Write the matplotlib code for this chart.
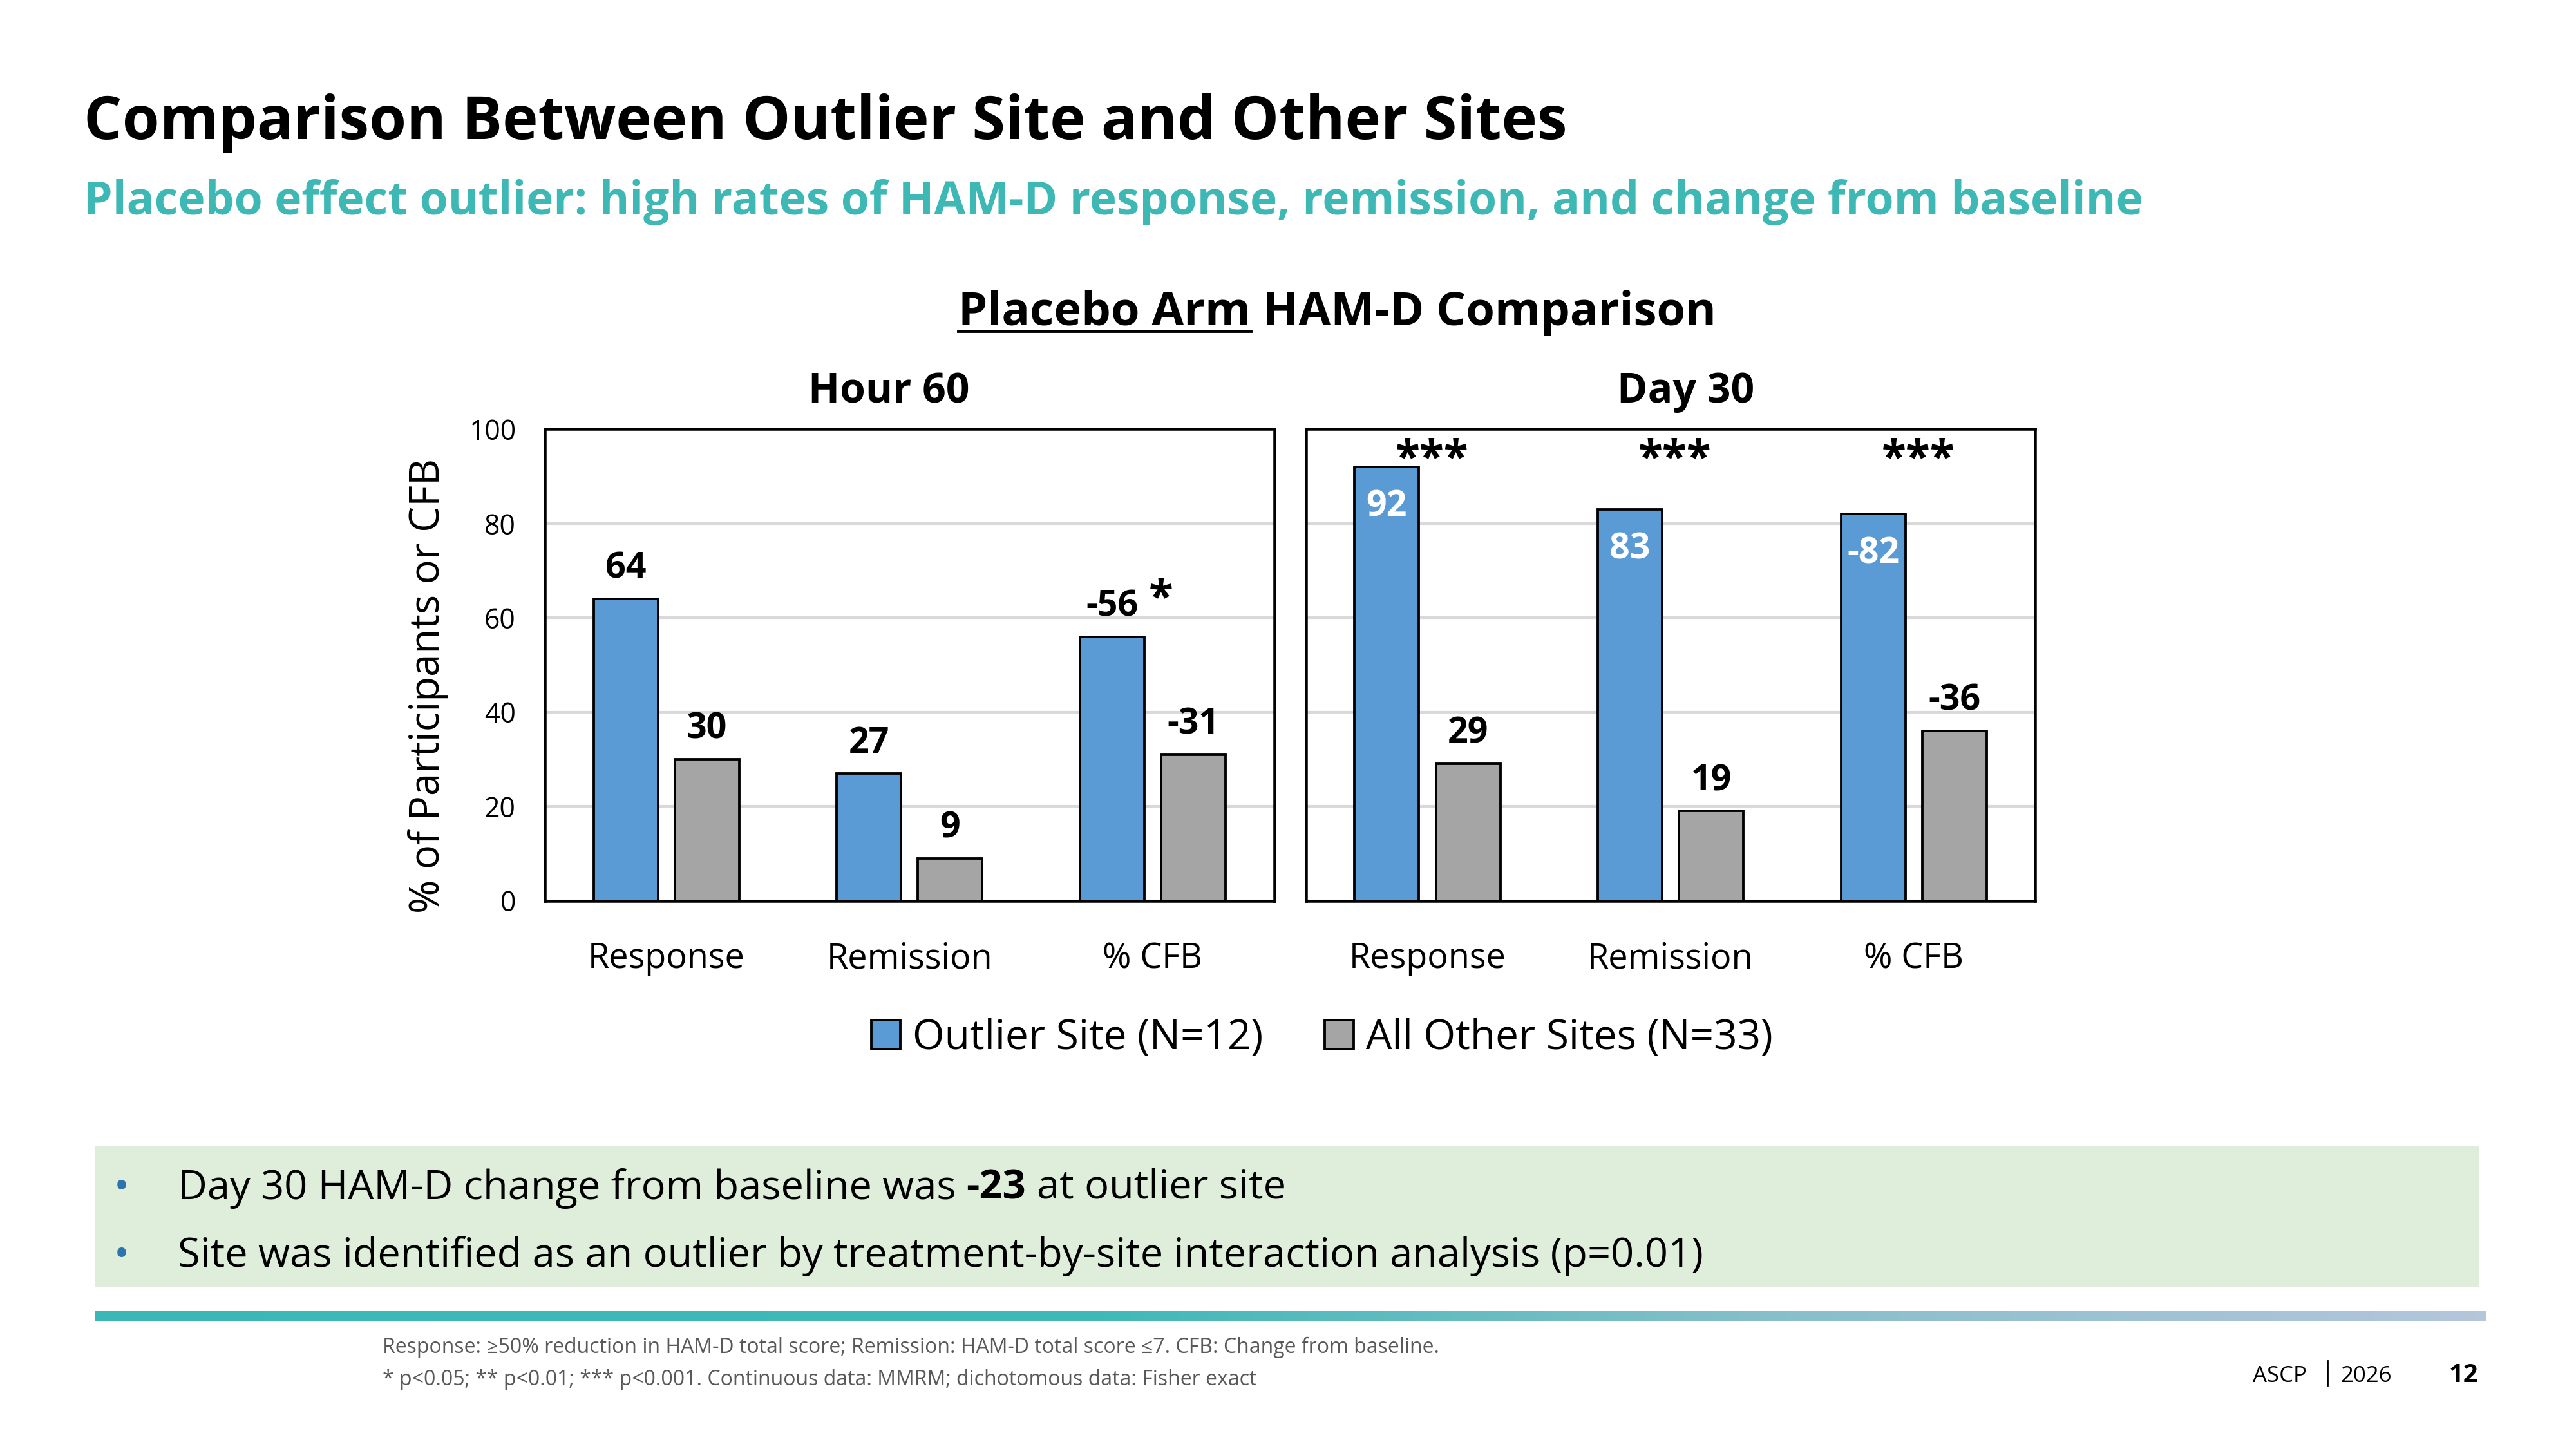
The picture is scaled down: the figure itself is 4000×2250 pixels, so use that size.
import numpy as np
import matplotlib
matplotlib.use('Agg')
import matplotlib.pyplot as plt
from matplotlib.patches import Rectangle, Patch
from matplotlib.lines import Line2D
from matplotlib.colors import LinearSegmentedColormap

plt.rcParams['font.family'] = ['Open Sans', 'DejaVu Sans']

# ── data ──────────────────────────────────────────────────────────────────────
categories = ['Response', 'Remission', '% CFB']
panel_titles = ['Hour 60', 'Day 30']
series_names = ['Outlier Site (N=12)', 'All Other Sites (N=33)']

hour60_outlier = [64, 27, 56]
hour60_other = [30, 9, 31]
day30_outlier = [92, 83, 82]
day30_other = [29, 19, 36]

hour60_outlier_labels = ['64', '27', '-56']
hour60_other_labels = ['30', '9', '-31']
day30_outlier_labels = ['92', '83', '-82']
day30_other_labels = ['29', '19', '-36']

hour60_sig = ['', '', '*']
day30_sig = ['***', '***', '***']

yticks = [0, 20, 40, 60, 80, 100]

BLUE = '#5B9BD5'
GRAY = '#A5A5A5'
TEAL = '#3DB8B5'

# ── figure / helpers ──────────────────────────────────────────────────────────
W, H = 4000, 2250
fig = plt.figure(figsize=(16, 9), dpi=250)
renderer = fig.canvas.get_renderer()


def fx(px):
    return px / W


def fy(px):
    return 1 - px / H


def width_px(s, size, weight='normal'):
    t = fig.text(0, 0, s, fontsize=size, fontweight=weight)
    w = t.get_window_extent(renderer).width
    t.remove()
    return w


def fitted_text(x, y, s, size, target_px, **kw):
    t = fig.text(x, y, s, fontsize=size, **kw)
    w = t.get_window_extent(renderer).width
    t.set_fontsize(size * target_px / w)
    return t


def chain_text(x_px, y, parts, size, **kw):
    # parts: list of (text, weight); joined with single spaces
    sp = width_px('a a', size) - width_px('aa', size)
    x = x_px
    out = []
    for s, weight in parts:
        t = fig.text(fx(x), y, s, fontsize=size, fontweight=weight, va='baseline', **kw)
        x += t.get_window_extent(renderer).width + sp
        out.append(t)
    return out


# ── headings ──────────────────────────────────────────────────────────────────
fitted_text(fx(130), fy(216.5), 'Comparison Between Outlier Site and Other Sites',
            24, 2301, fontweight='bold', va='baseline', color='black')
fitted_text(fx(130), fy(332.6),
            'Placebo effect outlier: high rates of HAM-D response, remission, and change from baseline',
            20.5, 3194, fontweight='bold', va='baseline', color=TEAL)

# chart title with underlined first part
size = 19
sp = width_px('A A', size, 'bold') - width_px('AA', size, 'bold')
total = width_px('Placebo Arm', size, 'bold') + sp + width_px('HAM-D Comparison', size, 'bold')
size = size * 1179 / total
sp = width_px('A A', size, 'bold') - width_px('AA', size, 'bold')
w1 = width_px('Placebo Arm', size, 'bold')
w2 = width_px('HAM-D Comparison', size, 'bold')
x0 = 2076.5 - (w1 + sp + w2) / 2
fig.text(fx(x0), fy(504.5), 'Placebo Arm', fontsize=size, fontweight='bold', va='baseline')
fig.text(fx(x0 + w1 + sp), fy(504.5), 'HAM-D Comparison', fontsize=size, fontweight='bold', va='baseline')
fig.add_artist(Line2D([fx(x0), fx(x0 + w1)], [fy(514), fy(514)], color='black', lw=1.4))

# ── panels ────────────────────────────────────────────────────────────────────
bar_w = 0.265
off = 0.167
x = np.arange(len(categories))

panels = [
    (fx(846), hour60_outlier, hour60_other, hour60_outlier_labels, hour60_other_labels, hour60_sig, 1380),
    (fx(2027.7), day30_outlier, day30_other, day30_outlier_labels, day30_other_labels, day30_sig, 2618),
]
ax_w = fx(1132.7)
ax_b = fy(1398.5)
ax_h = fy(666.5) - fy(1398.5)

for i, (left, outl, oth, outl_lab, oth_lab, sig, title_x) in enumerate(panels):
    ax = fig.add_axes([left, ax_b, ax_w, ax_h])
    ax.bar(x - off, outl, bar_w, color=BLUE, edgecolor='black', linewidth=1.1, zorder=3)
    ax.bar(x + off, oth, bar_w, color=GRAY, edgecolor='black', linewidth=1.1, zorder=3)
    ax.set_xlim(-0.5, 2.5)
    ax.set_ylim(0, 100)
    ax.set_yticks(yticks)
    ax.yaxis.grid(True, color='#D9D9D9', linewidth=1.2, zorder=0)
    ax.set_axisbelow(True)
    ax.set_xticks(x)
    ax.set_xticklabels(categories, fontsize=15.5)
    ax.tick_params(axis='x', length=0, pad=18)
    ax.tick_params(axis='y', length=0, pad=13, labelsize=12.3)
    if i == 1:
        ax.set_yticklabels([])
    for s in ax.spines.values():
        s.set_linewidth(1.3)
        s.set_color('black')

    for j in range(len(categories)):
        if i == 0:
            ax.annotate(outl_lab[j], (x[j] - off, outl[j]), xytext=(0, 9.3), textcoords='offset points',
                        ha='center', va='baseline', fontsize=16, fontweight='bold')
        else:
            ax.annotate(outl_lab[j], (x[j] - off, outl[j]), xytext=(0, -22), textcoords='offset points',
                        ha='center', va='baseline', fontsize=16, fontweight='bold', color='white')
        ax.annotate(oth_lab[j], (x[j] + off, oth[j]), xytext=(0, 9.3), textcoords='offset points',
                    ha='center', va='baseline', fontsize=16, fontweight='bold')
        if sig[j] == '*':
            ax.annotate(sig[j], (x[j] - off, outl[j]), xytext=(22, 11.3), textcoords='offset points',
                        ha='center', va='baseline', fontsize=20, fontweight='bold')
        elif sig[j]:
            ax.annotate(sig[j], (x[j], 100), xytext=(2, -19), textcoords='offset points',
                        ha='center', va='baseline', fontsize=20, fontweight='bold')

    fig.text(fx(title_x), fy(625), panel_titles[i], ha='center', va='baseline',
             fontsize=18.5, fontweight='bold')

fig.text(fx(665), fy(1064.6), '% of Participants or CFB', rotation=90,
         ha='center', va='center', fontsize=18.3)

handles = [Patch(facecolor=BLUE, edgecolor='black', linewidth=1.1),
           Patch(facecolor=GRAY, edgecolor='black', linewidth=1.1)]
fig.legend(handles, series_names, loc='center', bbox_to_anchor=(fx(2053), fy(1612)),
           ncol=2, frameon=False, fontsize=18.4, handlelength=0.7, handleheight=0.7,
           handletextpad=0.3, columnspacing=1.5, borderaxespad=0, borderpad=0)

# ── key messages box ──────────────────────────────────────────────────────────
fig.add_artist(Rectangle((fx(148), fy(1998)), fx(3850 - 148), fy(1780) - fy(1998),
                         transform=fig.transFigure, facecolor='#DFEEDB', edgecolor='none', zorder=0))

t2 = fitted_text(fx(275.5), fy(1966.7),
                 'Site was identified as an outlier by treatment-by-site interaction analysis (p=0.01)',
                 16.5, 2367, va='baseline')
bsize = t2.get_fontsize()
chain_text(275.5, fy(1861.7), [('Day 30 HAM-D change from baseline was', 'normal'),
                               ('-23', 'bold'), ('at outlier site', 'normal')], bsize)
for yb in (1861.7, 1966.7):
    fig.text(fx(189), fy(yb), '\u2022', ha='center', va='baseline', fontsize=bsize, color='#2C73B0')

# ── gradient rule ─────────────────────────────────────────────────────────────
cmap = LinearSegmentedColormap.from_list(
    'rule', [(0, '#3BB8B6'), (0.42, '#41B9B7'), (0.7, '#86BFCA'), (1, '#B5C6DB')])
gax = fig.add_axes([fx(148), fy(2051.7), fx(3861 - 148), fy(2035) - fy(2051.7)])
gax.imshow(np.linspace(0, 1, 512)[None, :], aspect='auto', cmap=cmap)
gax.axis('off')

# ── footnotes ─────────────────────────────────────────────────────────────────
f1 = fitted_text(fx(593.8), fy(2101.4),
                 'Response: \u226550% reduction in HAM-D total score; Remission: HAM-D total score \u22647. '
                 'CFB: Change from baseline.', 9.5, 1643, va='baseline', color='#595959')
fig.text(fx(593.8), fy(2151.4),
         '* p<0.05; ** p<0.01; *** p<0.001. Continuous data: MMRM; dichotomous data: Fisher exact',
         fontsize=f1.get_fontsize(), va='baseline', color='#595959')

fig.text(fx(3497.6), fy(2146), 'ASCP', fontsize=10, va='baseline')
fig.add_artist(Line2D([fx(3613.5), fx(3613.5)], [fy(2112.6), fy(2151.4)], color='black', lw=0.8))
fig.text(fx(3634), fy(2146), '2026', fontsize=10, va='baseline')
fig.text(fx(3848.5), fy(2146), '12', fontsize=11.5, fontweight='bold', ha='right', va='baseline')

fig.savefig('out.png', dpi=250)
